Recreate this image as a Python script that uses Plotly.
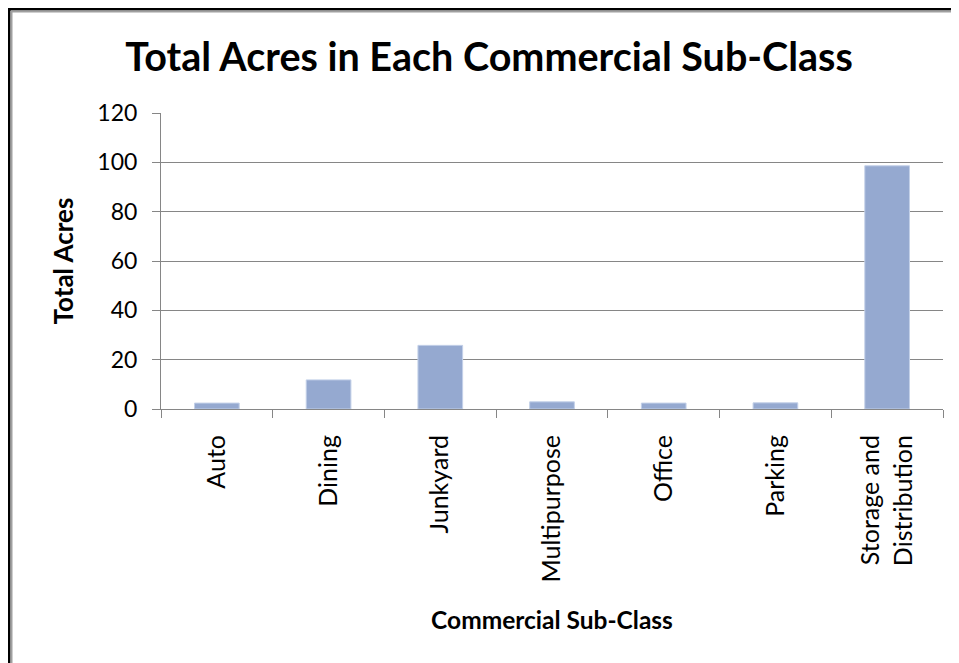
import plotly.graph_objects as go

categories = ["Auto", "Dining", "Junkyard", "Multipurpose", "Office", "Parking", "Storage and<br>Distribution"]
acres = [2.4, 11.8, 25.8, 2.9, 2.4, 2.5, 98.6]
y_ticks = [0, 20, 40, 60, 80, 100, 120]

# The page body has an 8px margin; the figure is sized to fit the window.
OFF = 8
W, H = 959 - OFF, 663 - OFF
L, R, T, B = 153, 16, 105, 254
pw = W - L - R
ph = H - T - B

def px(x):
    return (x - L) / pw

def py(y):
    return (H - B - y) / ph

FONT = "Lato"
grey = "#868686"

fig = go.Figure(go.Bar(
    x=categories, y=acres,
    marker=dict(color="#95A9D0", line=dict(color="#C3D0E8", width=1)),
    width=0.4,
))

fig.update_layout(
    width=W, height=H,
    margin=dict(l=L, r=R, t=T, b=B),
    paper_bgcolor="white", plot_bgcolor="white",
    showlegend=False,
    font=dict(family=FONT, color="#000000"),
    title=dict(text="<b>Total Acres in Each Commercial Sub-Class</b>",
               x=481 / W, xanchor="center", y=1 - 49 / H, yanchor="middle",
               font=dict(size=39.5, family=FONT, color="#000000")),
)

fig.update_xaxes(
    type="category",
    tickangle=-90,
    tickfont=dict(size=25, family=FONT),
    ticks="outside", ticklen=8, tickcolor=grey, tickson="boundaries",
    showline=True, linecolor=grey, linewidth=1,
    showgrid=False,
    ticklabelstandoff=15,
    title=dict(text="<b>Commercial Sub-Class</b>", font=dict(size=24.5, family=FONT), standoff=30),
)

fig.update_yaxes(
    range=[0, 120],
    tickvals=y_ticks,
    tickfont=dict(size=23, family=FONT),
    ticks="outside", ticklen=8, tickcolor=grey,
    showline=True, linecolor=grey, linewidth=1,
    showgrid=True, gridcolor=grey, gridwidth=1,
    zeroline=False,
    ticklabelstandoff=10,
    title=dict(text="<b>Total Acres</b>", font=dict(size=26, family=FONT), standoff=16),
)

# outer frame (top and left edges)
shapes = [
    dict(type="line", xref="paper", yref="paper", x0=px(1), x1=px(1), y0=py(0), y1=py(H + 5), line=dict(color="black", width=3)),
    dict(type="line", xref="paper", yref="paper", x0=px(0), x1=px(W + 5), y0=py(1), y1=py(1), line=dict(color="black", width=3)),
    dict(type="line", xref="paper", yref="paper", x0=px(3.5), x1=px(3.5), y0=py(3), y1=py(H + 5), line=dict(color="#A0A0A0", width=2)),
    dict(type="line", xref="paper", yref="paper", x0=px(3), x1=px(W + 5), y0=py(3.5), y1=py(3.5), line=dict(color="#A0A0A0", width=2)),
]
fig.update_layout(shapes=shapes)

fig.write_html("out.html")
